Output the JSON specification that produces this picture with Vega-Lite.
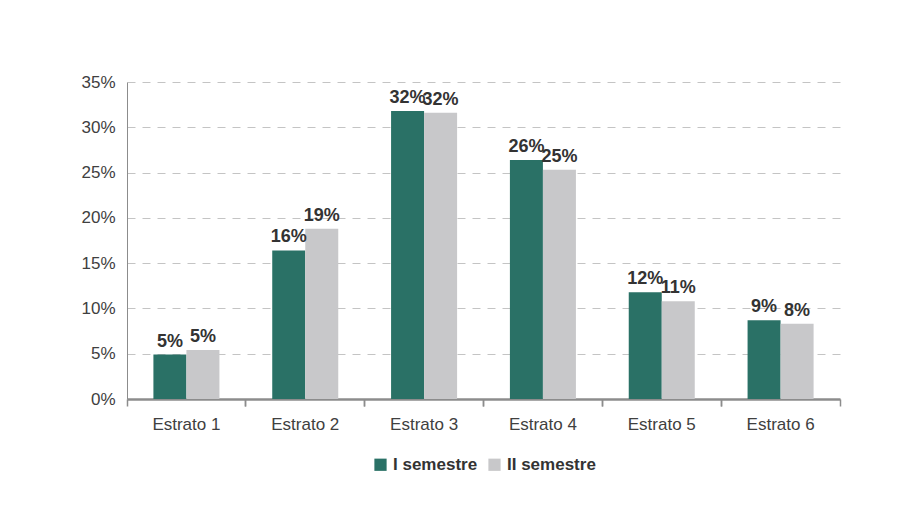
{
  "$schema": "https://vega.github.io/schema/vega-lite/v6.json",
  "width": 713,
  "height": 317,
  "autosize": {"type": "none"},
  "padding": {"left": 127, "top": 82, "right": 74, "bottom": 115},
  "background": "white",
  "config": {
    "view": {"stroke": null},
    "font": "Liberation Sans",
    "axis": {"labelFont": "Liberation Sans", "labelColor": "#404040"},
    "legend": {"layout": {"bottom": {"anchor": "middle"}}}
  },
  "data": {
    "values": [
      {"estrato": "Estrato 1", "semestre": "I semestre", "valor": 0.049},
      {"estrato": "Estrato 1", "semestre": "II semestre", "valor": 0.054},
      {"estrato": "Estrato 2", "semestre": "I semestre", "valor": 0.164},
      {"estrato": "Estrato 2", "semestre": "II semestre", "valor": 0.188},
      {"estrato": "Estrato 3", "semestre": "I semestre", "valor": 0.318},
      {"estrato": "Estrato 3", "semestre": "II semestre", "valor": 0.316},
      {"estrato": "Estrato 4", "semestre": "I semestre", "valor": 0.264},
      {"estrato": "Estrato 4", "semestre": "II semestre", "valor": 0.253},
      {"estrato": "Estrato 5", "semestre": "I semestre", "valor": 0.118},
      {"estrato": "Estrato 5", "semestre": "II semestre", "valor": 0.108},
      {"estrato": "Estrato 6", "semestre": "I semestre", "valor": 0.087},
      {"estrato": "Estrato 6", "semestre": "II semestre", "valor": 0.083}
    ]
  },
  "layer": [
    {
      "mark": {"type": "bar"},
      "encoding": {
        "x": {
          "field": "estrato", "type": "nominal", "scale": {"paddingInner": 0, "paddingOuter": 0},
          "axis": {"orient": "bottom", "title": null, "labelAngle": 0, "labelFontSize": 17, "labelPadding": 17, "ticks": false, "domain": false, "grid": false, "bandPosition": 0.5}
        },
        "xOffset": {"field": "semestre", "type": "nominal", "scale": {"paddingInner": 0, "paddingOuter": 0.8}},
        "y": {
          "field": "valor", "type": "quantitative", "scale": {"domain": [0, 0.35], "nice": false, "zero": true},
          "axis": {
            "title": null, "format": ".0%", "values": [0, 0.05, 0.1, 0.15, 0.2, 0.25, 0.3, 0.35],
            "labelFontSize": 17, "labelPadding": 12, "ticks": false,
            "domainColor": "#8c8c8c", "domainWidth": 1,
            "grid": true, "gridColor": "#c4c4c4", "gridDash": [8, 7], "gridWidth": 1
          }
        },
        "color": {
          "field": "semestre", "type": "nominal",
          "scale": {"domain": ["I semestre", "II semestre"], "range": ["#2a7166", "#c8c8ca"]},
          "legend": {
            "title": null, "orient": "bottom", "direction": "horizontal",
            "symbolType": "square", "symbolSize": 150, "symbolStrokeWidth": 0,
            "labelFont": "Liberation Sans", "labelFontWeight": "bold", "labelFontSize": 17, "labelColor": "#333333",
            "labelOffset": 4, "columnPadding": 8, "offset": 24
          }
        }
      }
    },
    {
      "mark": {"type": "text", "baseline": "alphabetic", "dy": -8, "fontSize": 18, "fontWeight": "bold", "color": "#333333", "font": "Liberation Sans"},
      "encoding": {
        "x": {"field": "estrato", "type": "nominal", "axis": null},
        "xOffset": {"field": "semestre", "type": "nominal"},
        "y": {"field": "valor", "type": "quantitative"},
        "text": {"field": "valor", "type": "quantitative", "format": ".0%"}
      }
    },
    {
      "mark": {"type": "rule", "opacity": 0},
      "encoding": {
        "x": {
          "field": "estrato", "type": "nominal",
          "axis": {"orient": "bottom", "title": null, "labels": false, "ticks": true, "tickSize": 7, "tickColor": "#8c8c8c", "tickWidth": 1.5, "domainColor": "#8c8c8c", "domainWidth": 2.5, "grid": false, "bandPosition": 0}
        },
        "y": {"field": "valor", "type": "quantitative"}
      }
    },
    {
      "mark": {"type": "rule", "opacity": 0},
      "encoding": {
        "x": {
          "field": "estrato", "type": "nominal",
          "axis": {"orient": "bottom", "title": null, "labels": false, "ticks": true, "tickSize": 7, "tickColor": "#8c8c8c", "tickWidth": 1.5, "domain": false, "grid": false, "bandPosition": 1}
        },
        "y": {"field": "valor", "type": "quantitative"}
      }
    }
  ],
  "resolve": {"axis": {"x": "independent"}}
}
